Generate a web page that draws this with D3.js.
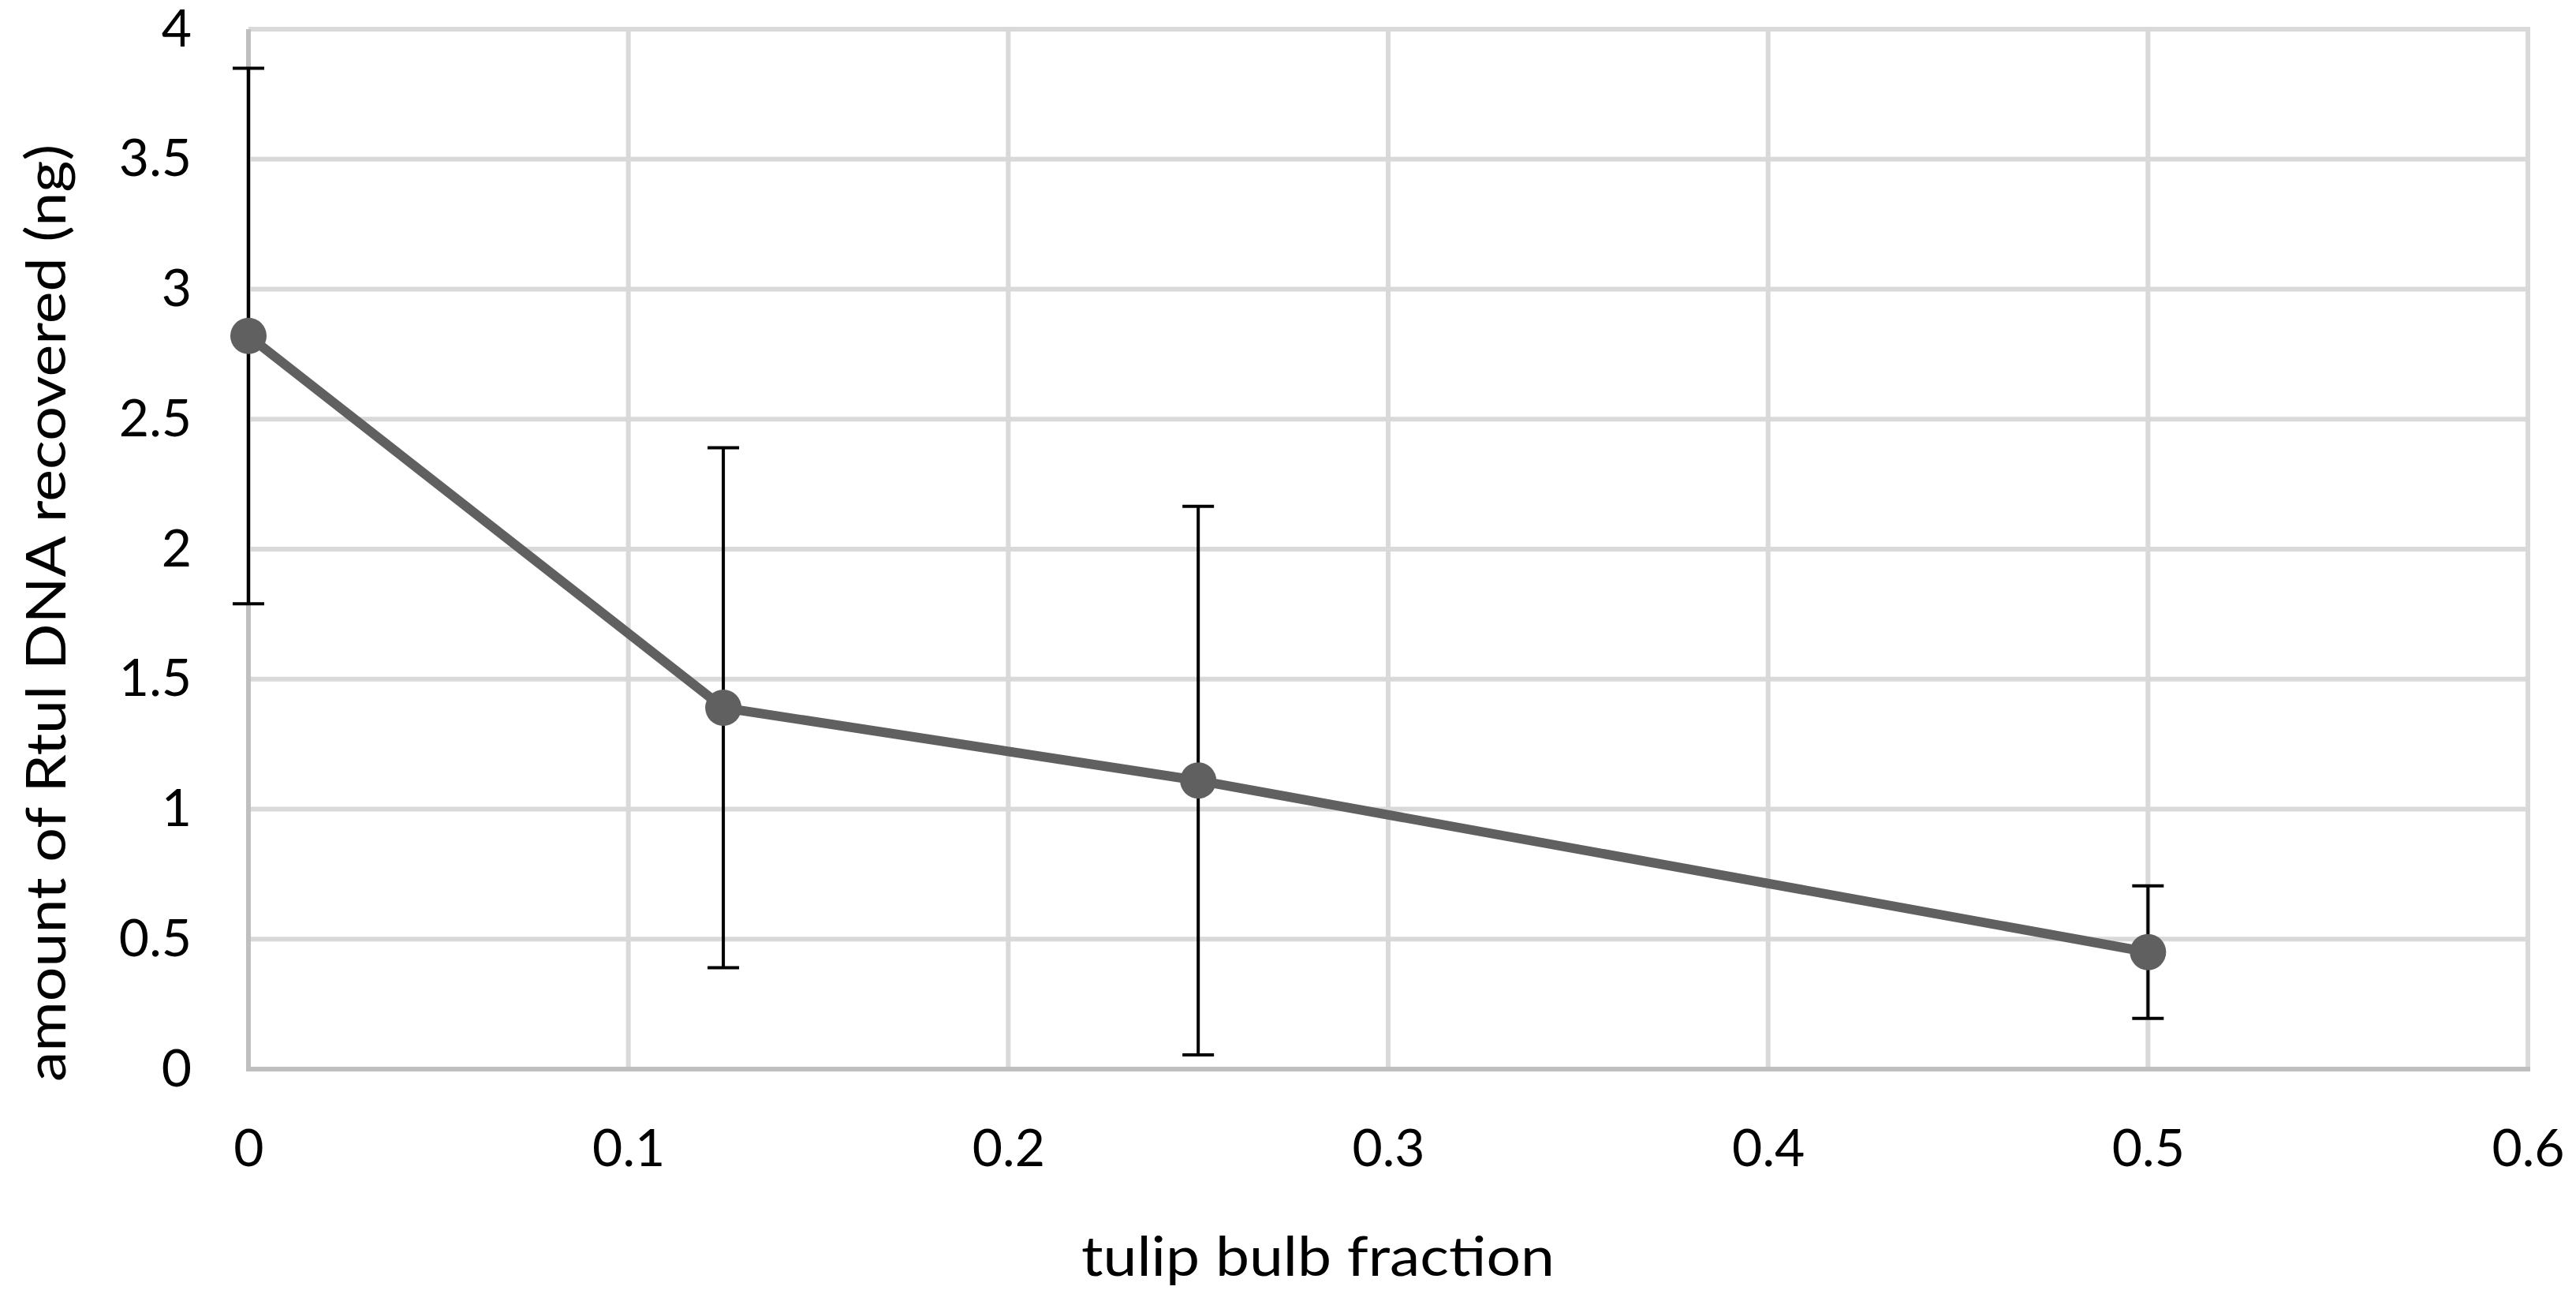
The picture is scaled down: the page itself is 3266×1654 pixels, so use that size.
<!DOCTYPE html>
<html>
<head>
<meta charset="utf-8">
<script src="https://cdn.jsdelivr.net/npm/d3@7"></script>
<style>
  html, body { margin: 0; padding: 0; background: #ffffff; }
  svg { display: block; }
</style>
</head>
<body>
<svg id="chart" width="3266" height="1654"></svg>
<script>
// ---- data ----
const xValues = [0, 0.125, 0.25, 0.5];
const yValues = [2.82, 1.39, 1.11, 0.45];
const errValues = [1.03, 1.00, 1.055, 0.255];

const xTickValues = [0, 0.1, 0.2, 0.3, 0.4, 0.5, 0.6];
const xTickLabels = ["0", "0.1", "0.2", "0.3", "0.4", "0.5", "0.6"];
const yTickValues = [0, 0.5, 1, 1.5, 2, 2.5, 3, 3.5, 4];
const yTickLabels = ["0", "0.5", "1", "1.5", "2", "2.5", "3", "3.5", "4"];

const xTitle = "tulip bulb fraction";
const yTitle = "amount of Rtul DNA recovered (ng)";

// ---- layout ----
const W = 3266, H = 1654;
const M = { left: 315, right: 3205, top: 37, bottom: 1355 };
const font = "Lato, 'Open Sans', sans-serif";

const svg = d3.select("#chart");
svg.append("rect").attr("width", W).attr("height", H).attr("fill", "#ffffff");

const x = d3.scaleLinear().domain([0, 0.6]).range([M.left, M.right]);
const y = d3.scaleLinear().domain([0, 4]).range([M.bottom, M.top]);

// gridlines
const grid = svg.append("g");
grid.selectAll("line.h").data(yTickValues.filter(d => d > 0)).join("line")
  .attr("x1", M.left).attr("x2", M.right + 3)
  .attr("y1", d => y(d)).attr("y2", d => y(d))
  .attr("stroke", "#d9d9d9").attr("stroke-width", 6);
grid.selectAll("line.v").data(xTickValues.filter(d => d > 0)).join("line")
  .attr("x1", d => x(d)).attr("x2", d => x(d))
  .attr("y1", M.top - 3).attr("y2", M.bottom)
  .attr("stroke", "#d9d9d9").attr("stroke-width", 6);

// axis lines
svg.append("line").attr("x1", M.left).attr("x2", M.left).attr("y1", M.top).attr("y2", M.bottom + 3)
  .attr("stroke", "#bfbfbf").attr("stroke-width", 6);
svg.append("line").attr("x1", M.left - 3).attr("x2", M.right + 3).attr("y1", M.bottom).attr("y2", M.bottom)
  .attr("stroke", "#bfbfbf").attr("stroke-width", 6);

// axis labels via d3 axes
const yAxis = d3.axisLeft(y).tickValues(yTickValues)
  .tickFormat((d, i) => yTickLabels[i]).tickSize(0).tickPadding(72);
const gy = svg.append("g").attr("transform", `translate(${M.left},0)`).call(yAxis);
gy.select(".domain").remove();
gy.selectAll("text").attr("font-family", font).attr("font-size", 66).attr("fill", "#000");

const xAxis = d3.axisBottom(x).tickValues(xTickValues)
  .tickFormat((d, i) => xTickLabels[i]).tickSize(0).tickPadding(76);
const gx = svg.append("g").attr("transform", `translate(0,${M.bottom})`).call(xAxis);
gx.select(".domain").remove();
gx.selectAll("text").attr("font-family", font).attr("font-size", 66).attr("fill", "#000");

// data
const data = xValues.map((v, i) => ({ x: v, y: yValues[i], e: errValues[i] }));

// error bars
const eb = svg.append("g").attr("stroke", "#000").attr("stroke-width", 4);
eb.selectAll("line.stem").data(data).join("line")
  .attr("x1", d => x(d.x)).attr("x2", d => x(d.x))
  .attr("y1", d => y(d.y + d.e)).attr("y2", d => y(d.y - d.e));
eb.selectAll("line.capt").data(data).join("line")
  .attr("x1", d => x(d.x) - 20).attr("x2", d => x(d.x) + 20)
  .attr("y1", d => y(d.y + d.e)).attr("y2", d => y(d.y + d.e));
eb.selectAll("line.capb").data(data).join("line")
  .attr("x1", d => x(d.x) - 20).attr("x2", d => x(d.x) + 20)
  .attr("y1", d => y(d.y - d.e)).attr("y2", d => y(d.y - d.e));

// line
svg.append("path").datum(data)
  .attr("d", d3.line().x(d => x(d.x)).y(d => y(d.y)))
  .attr("fill", "none").attr("stroke", "#606060").attr("stroke-width", 12)
  .attr("stroke-linejoin", "round");

// markers
svg.append("g").selectAll("circle").data(data).join("circle")
  .attr("cx", d => x(d.x)).attr("cy", d => y(d.y)).attr("r", 23)
  .attr("fill", "#606060");

// titles
svg.append("text").text(xTitle)
  .attr("x", 1671).attr("y", 1617).attr("text-anchor", "middle")
  .attr("font-family", font).attr("font-size", 70).attr("fill", "#000")
  .attr("textLength", 600).attr("lengthAdjust", "spacingAndGlyphs");

svg.append("text").text(yTitle)
  .attr("transform", `translate(83,777) rotate(-90)`).attr("text-anchor", "middle")
  .attr("font-family", font).attr("font-size", 70).attr("fill", "#000")
  .attr("textLength", 1188).attr("lengthAdjust", "spacingAndGlyphs");
</script>
</body>
</html>
